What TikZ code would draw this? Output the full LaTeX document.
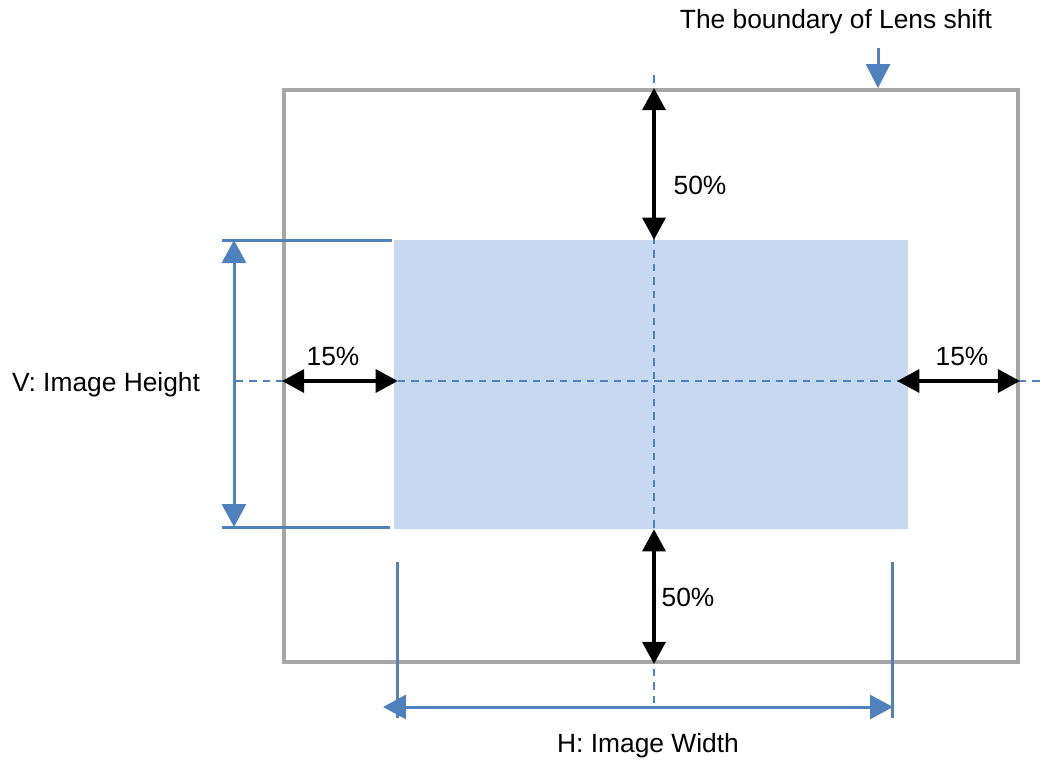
\documentclass[tikz,border=0pt]{standalone}
\usepackage{fontspec}
\setmainfont{Liberation Sans}
\usetikzlibrary{arrows.meta,positioning,calc}
\definecolor{lensblue}{RGB}{79,129,189}
\definecolor{imgfill}{RGB}{198,217,241}
\definecolor{boundgray}{RGB}{166,166,166}
\begin{document}
\begin{tikzpicture}[
    x=0.02cm, y=-0.02cm,
    lbl/.style={inner sep=0pt, font=\fontsize{15}{18}\selectfont},
    bound/.style={draw=boundgray, line width=0.08cm, minimum width=14.68cm, minimum height=11.44cm, inner sep=0pt},
    screen/.style={fill=imgfill, minimum width=10.28cm, minimum height=5.78cm, inner sep=0pt},
    guide/.style={draw=lensblue, line width=0.05cm, dash pattern=on 0.15cm off 0.12cm},
    dim/.style={draw=lensblue, line width=0.06cm},
    dimarr/.style={dim, {Triangle[length=0.46cm, width=0.48cm]}-{Triangle[length=0.46cm, width=0.48cm]}},
    ptr/.style={dim, -{Triangle[length=0.48cm, width=0.48cm]}},
    arr/.style={line width=0.065cm, {Triangle[length=0.44cm, width=0.46cm]}-{Triangle[length=0.44cm, width=0.46cm]}}
]
\useasboundingbox (0,0) rectangle (1046,765);
\node[bound] (lens) at (651,376) {};
\node[screen] (img) at (651,384.5) {};
\coordinate (cx) at (654,381);

\draw[guide] (654,75) -- (654,705);
\draw[guide] (236,381) -- (1046,381);

\draw[arr] (cx |- lens.north) -- (cx |- img.north);
\draw[arr] (cx |- img.south) -- (cx |- lens.south);
\draw[arr] (lens.west |- cx) -- ([xshift=0.08cm]img.west |- cx);
\draw[arr] ([xshift=-0.22cm]img.east |- cx) -- (lens.east |- cx);

\node[lbl] (top) at (700,185) {50\%};
\node[lbl] (bot) at (688,597) {50\%};
\node[lbl] (left) at (333,356) {15\%};
\node[lbl] (right) at (962,356) {15\%};

\coordinate (vt) at (222,240);
\coordinate (vb) at (222,527);
\draw[dim] (vt) -- (392,240);
\draw[dim] (vb) -- (390,527);
\draw[dimarr] ($(vt)+(12,0)$) -- ($(vb)+(12,0)$);
\node[lbl] (vlab) at (106,385) {V: Image Height};

\coordinate (hl) at (397,562);
\coordinate (hr) at (892,562);
\draw[dim] (hl) -- (397,718);
\draw[dim] (hr) -- (892,718);
\draw[dimarr] (383,707) -- (893,707);
\node[lbl] (hlab) at (648,746) {H: Image Width};

\node[lbl] (blab) at (836,22) {The boundary of Lens shift};
\coordinate (bp) at (878,48);
\draw[ptr] (bp) -- (bp |- lens.north);
\end{tikzpicture}
\end{document}
